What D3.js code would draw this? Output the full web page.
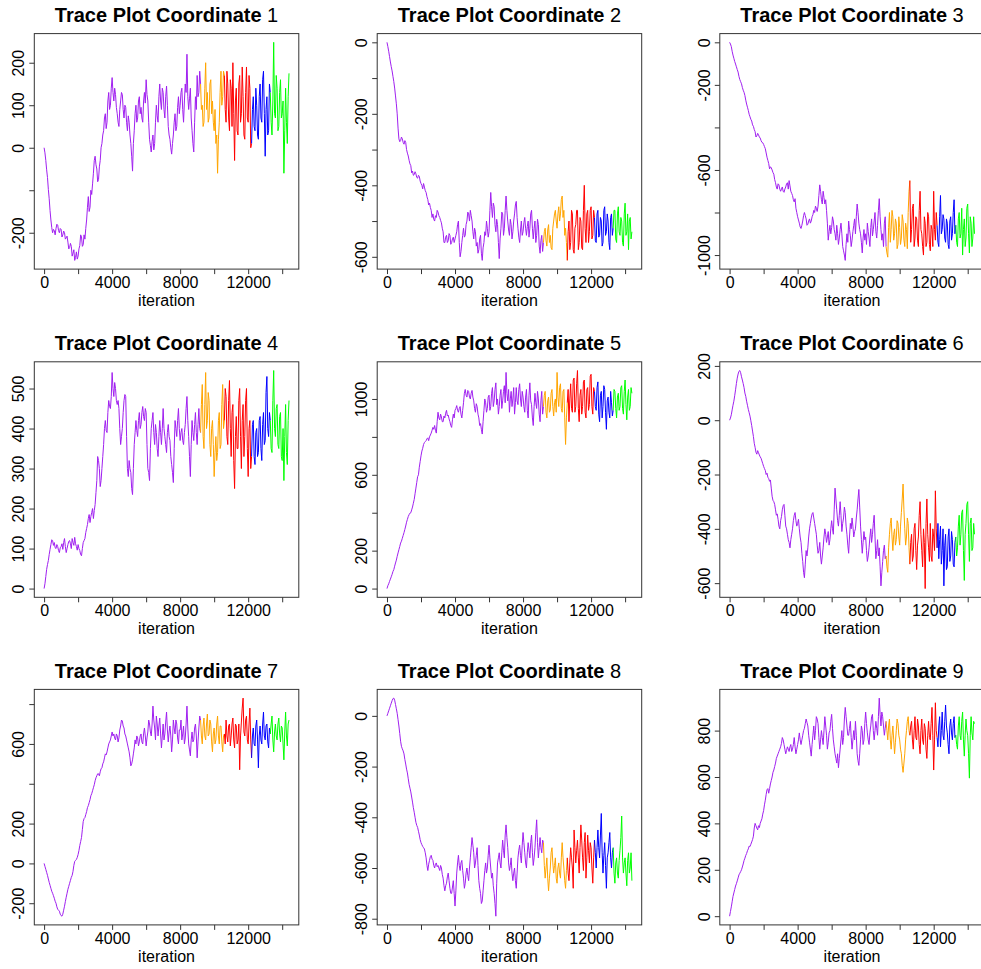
<html>
<head>
<script src="https://d3js.org/d3.v7.min.js"></script>
<style>
  body { margin: 0; background: white; }
  text { font-family: "Liberation Sans", Arial, sans-serif; }
</style>
</head>
<body>
<svg class="chart" width="981" height="969"></svg>

<script>
// trace values, one every 50 iterations (0 .. 14400), 20 per row = 1000 iterations
var step = 50;

var coord1 = [
  0, -12, -30, -52, -70, -98, -120, -148, -170, -188, -200, -192, -195, -205, -190, -180, -182, -195, -200, -190,
  -192, -210, -205, -196, -200, -215, -212, -208, -222, -238, -235, -225, -232, -255, -248, -240, -265, -258, -245, -262,
  -255, -238, -230, -205, -210, -232, -228, -205, -215, -190, -170, -140, -115, -150, -140, -100, -110, -85, -60, -30,
  -20, -40, -50, -80, -75, -45, -30, 0, 10, 30, 40, 70, 80, 45, 60, 110, 130, 90, 100, 140,
  165, 130, 110, 140, 125, 95, 80, 60, 50, 90, 110, 130, 125, 90, 70, 100, 95, 60, 40, 75,
  60, 30, 10, -20, -55, 10, 40, 80, 100, 60, 70, 110, 120, 80, 95, 70, 60, 110, 130, 105,
  160, 125, 110, 60, 20, 5, -10, 15, 30, -5, 10, 60, 100, 75, 60, 120, 150, 110, 90, 140,
  130, 90, 70, 120, 145, 100, 50, 30, 20, 0, -15, 10, 30, 60, 80, 40, 50, 95, 120, 80,
  100, 130, 140, 90, 60, 110, 150, 130, 220, 120, 90, 115, 140, 70, 40, 10, -10, 60, 120, 90,
  170, 120, 130, 180, 150, 90, 100, 50, 60, 140, 200, 90, 130, 60, 70, 150, 160, 80, 110, 60,
  40, 90, 10, 30, -60, 20, 60, 130, 180, 100, 120, 180, 170, 90, 60, 180, 150, 70, 40, 160,
  140, 50, 200, 80, -30, 110, 140, 40, 30, 150, 170, 60, 80, 190, 120, 30, 20, 130, 190, 70,
  60, 170, 140, 0, 10, 90, 120, 50, 40, 140, 100, 30, 20, 120, 150, 70, 60, 160, 180, 80,
  -20, 90, 120, 30, 40, 150, 130, 60, 30, 110, 248, 80, 70, 170, 140, 40, 50, 130, 160, 70,
  80, 110, -60, 40, 140, 60, 10, 120, 175];

var coord2 = [
  0, -12, -25, -40, -55, -68, -80, -95, -110, -128, -150, -172, -200, -240, -270, -278, -275, -265, -270, -280,
  -285, -275, -280, -300, -310, -318, -330, -340, -345, -365, -360, -372, -370, -362, -368, -378, -380, -372, -375, -388,
  -395, -400, -410, -395, -405, -415, -420, -432, -440, -455, -450, -462, -470, -490, -480, -495, -500, -485, -490, -470,
  -475, -485, -490, -498, -505, -520, -530, -560, -560, -545, -540, -560, -555, -535, -540, -565, -560, -550, -545, -560,
  -550, -540, -530, -510, -500, -560, -600, -585, -560, -540, -520, -545, -540, -510, -500, -475, -480, -500, -470, -485,
  -500, -530, -550, -520, -530, -570, -560, -590, -580, -550, -540, -590, -610, -575, -560, -530, -540, -500, -520, -545,
  -530, -470, -420, -460, -490, -450, -460, -510, -530, -495, -510, -560, -605, -550, -520, -475, -480, -540, -520, -470,
  -430, -470, -500, -525, -540, -495, -510, -550, -530, -500, -480, -455, -445, -490, -520, -545, -560, -525, -500, -540,
  -530, -505, -490, -520, -540, -515, -500, -545, -520, -480, -470, -520, -550, -520, -500, -560, -540, -495, -510, -570,
  -590, -555, -540, -585, -560, -530, -520, -555, -570, -525, -510, -560, -540, -575, -580, -520, -500, -480, -470, -500,
  -520, -480, -460, -500, -480, -440, -430, -490, -470, -540, -520, -560, -610, -530, -500, -580, -560, -470, -480, -580,
  -590, -520, -510, -470, -470, -580, -560, -490, -500, -575, -580, -470, -400, -520, -560, -480, -470, -560, -530, -470,
  -460, -550, -540, -470, -490, -555, -560, -480, -470, -545, -540, -490, -500, -570, -560, -470, -460, -540, -530, -480,
  -500, -560, -580, -490, -480, -540, -520, -470, -470, -550, -560, -480, -460, -530, -540, -490, -500, -560, -570, -480,
  -450, -540, -530, -480, -580, -500, -490, -550, -530];

var coord3 = [
  0, -8, -20, -42, -60, -75, -90, -102, -115, -128, -140, -160, -175, -185, -195, -212, -225, -235, -250, -272,
  -290, -305, -320, -338, -350, -362, -370, -388, -395, -410, -420, -445, -440, -428, -435, -445, -450, -462, -470, -472,
  -480, -490, -500, -520, -540, -555, -570, -595, -585, -590, -600, -612, -620, -645, -660, -680, -690, -665, -670, -690,
  -700, -690, -680, -700, -705, -690, -680, -665, -660, -690, -650, -675, -700, -710, -720, -740, -750, -735, -780, -800,
  -820, -835, -850, -868, -875, -860, -840, -815, -800, -815, -830, -860, -855, -840, -830, -850, -840, -820, -810, -790,
  -800, -770, -780, -795, -770, -720, -670, -700, -740, -760, -700, -730, -760, -740, -790, -850, -930, -890, -860, -900,
  -870, -820, -840, -880, -900, -930, -860, -900, -950, -920, -880, -850, -900, -960, -980, -1000, -1025, -950, -900, -940,
  -840, -880, -910, -960, -930, -890, -860, -830, -900, -820, -760, -800, -850, -880, -900, -940, -990, -920, -880, -930,
  -900, -950, -850, -890, -920, -960, -870, -830, -910, -880, -840, -800, -890, -920, -860, -790, -735, -820, -880, -930,
  -900, -960, -850, -820, -960, -990, -1010, -870, -800, -940, -880, -790, -820, -930, -900, -830, -850, -970, -950, -820,
  -870, -950, -920, -810, -840, -930, -960, -850, -880, -970, -800, -700, -650, -940, -880, -780, -760, -960, -920, -820,
  -830, -930, -960, -790, -700, -880, -900, -960, -1000, -820, -850, -960, -940, -800, -820, -950, -980, -860, -880, -960,
  -700, -880, -930, -800, -860, -940, -960, -820, -720, -900, -880, -810, -830, -920, -940, -830, -850, -950, -970, -840,
  -820, -930, -900, -800, -740, -900, -860, -940, -960, -830, -800, -920, -900, -780, -1000, -880, -830, -960, -920, -780,
  -760, -900, -990, -820, -850, -960, -920, -820, -900];

var coord4 = [
  0, 12, 30, 48, 60, 70, 85, 98, 110, 122, 120, 108, 115, 102, 100, 110, 105, 95, 90, 102,
  105, 112, 98, 115, 125, 105, 90, 100, 110, 118, 120, 112, 100, 125, 115, 108, 128, 112, 105, 96,
  110, 100, 95, 85, 82, 100, 115, 120, 125, 140, 150, 160, 175, 185, 165, 180, 190, 200, 175, 195,
  210, 240, 270, 330, 320, 300, 255, 270, 300, 330, 360, 400, 420, 395, 390, 440, 470, 455, 450, 480,
  540, 500, 480, 515, 500, 470, 460, 470, 450, 400, 360, 380, 400, 440, 470, 485, 480, 380, 300, 280,
  320, 300, 290, 250, 235, 300, 360, 390, 420, 395, 380, 420, 440, 400, 410, 440, 455, 430, 420, 450,
  440, 360, 300, 290, 270, 350, 400, 420, 440, 390, 360, 410, 390, 350, 330, 380, 420, 390, 360, 400,
  450, 400, 380, 360, 340, 390, 410, 380, 370, 330, 310, 290, 265, 350, 420, 400, 380, 420, 450, 400,
  370, 390, 400, 370, 360, 390, 410, 450, 480, 420, 380, 330, 280, 360, 420, 390, 370, 410, 440, 390,
  360, 410, 450, 400, 390, 460, 510, 380, 350, 460, 540, 400, 420, 490, 470, 360, 330, 400, 420, 360,
  280, 340, 380, 320, 340, 420, 440, 350, 360, 460, 510, 400, 420, 500, 480, 380, 360, 470, 520, 400,
  330, 440, 460, 320, 250, 380, 430, 350, 350, 470, 500, 380, 300, 420, 460, 330, 380, 470, 500, 350,
  280, 400, 420, 300, 330, 410, 420, 330, 310, 390, 400, 330, 340, 420, 430, 350, 320, 410, 440, 360,
  370, 490, 530, 400, 380, 440, 420, 350, 340, 470, 545, 400, 380, 450, 460, 360, 350, 430, 440, 330,
  320, 400, 270, 380, 460, 340, 310, 420, 470];

var coord5 = [
  0, 15, 25, 38, 50, 62, 75, 90, 100, 118, 135, 150, 170, 188, 205, 222, 240, 250, 265, 280,
  295, 312, 330, 350, 365, 380, 390, 398, 400, 415, 430, 450, 470, 500, 530, 560, 590, 600, 640, 670,
  700, 725, 740, 760, 770, 775, 780, 790, 795, 780, 800, 810, 820, 835, 850, 840, 860, 835, 820, 880,
  930, 900, 890, 920, 905, 880, 880, 910, 900, 925, 940, 910, 915, 895, 880, 860, 850, 890, 920, 900,
  940, 950, 965, 940, 930, 950, 960, 920, 900, 940, 980, 1030, 1050, 1020, 1010, 1045, 1040, 1010, 1000, 1030,
  1045, 1010, 990, 950, 930, 975, 960, 920, 900, 860, 870, 840, 815, 880, 940, 1000, 980, 930, 950, 1010,
  1020, 940, 960, 1030, 1060, 960, 990, 1050, 1085, 970, 1000, 920, 960, 1020, 1050, 950, 990, 1040, 1070, 980,
  1140, 1030, 990, 1050, 930, 1000, 1040, 960, 1000, 1060, 920, 980, 1060, 990, 970, 1050, 1080, 1000, 960, 1040,
  1010, 960, 930, 1010, 1050, 940, 900, 1020, 1085, 990, 970, 900, 860, 960, 1030, 980, 950, 1040, 1000, 920,
  880, 990, 1040, 920, 960, 1020, 1040, 930, 900, 990, 1010, 930, 940, 1030, 1050, 960, 910, 980, 1000, 930,
  1140, 1010, 960, 1060, 1080, 950, 930, 1040, 1050, 900, 760, 900, 980, 1050, 880, 1000, 1080, 950, 930, 1100,
  1110, 930, 960, 1080, 1150, 950, 880, 1020, 1050, 920, 960, 1090, 1100, 930, 900, 1050, 1060, 940, 970, 1120,
  1130, 960, 920, 1060, 1040, 960, 940, 1060, 1090, 920, 880, 1020, 1040, 900, 960, 1070, 1050, 930, 840, 990,
  1010, 930, 900, 1040, 980, 910, 940, 1050, 1040, 950, 900, 1010, 1030, 940, 960, 1060, 1070, 950, 920, 1040,
  1100, 970, 890, 1010, 1050, 940, 960, 1060, 1030];

var coord6 = [
  0, 8, 20, 38, 55, 70, 90, 112, 135, 155, 170, 180, 183, 175, 160, 148, 135, 120, 100, 88,
  70, 55, 40, 28, 15, -2, -20, -40, -60, -85, -100, -118, -125, -112, -120, -128, -135, -140, -150, -160,
  -170, -178, -185, -200, -195, -210, -215, -225, -220, -250, -280, -295, -300, -310, -330, -350, -345, -365, -390, -400,
  -370, -355, -330, -315, -310, -350, -390, -400, -420, -440, -450, -470, -440, -420, -400, -370, -350, -340, -370, -390,
  -380, -365, -400, -430, -450, -490, -520, -560, -580, -530, -480, -500, -470, -430, -400, -380, -360, -345, -340, -360,
  -380, -400, -420, -460, -490, -480, -450, -500, -530, -500, -470, -430, -400, -420, -450, -430, -410, -460, -440, -400,
  -370, -400, -420, -330, -250, -290, -330, -370, -390, -350, -300, -350, -410, -380, -360, -320, -340, -390, -420, -460,
  -490, -430, -380, -400, -360, -390, -430, -410, -400, -360, -330, -290, -255, -320, -390, -440, -490, -450, -410, -440,
  -430, -480, -520, -500, -470, -430, -400, -450, -420, -380, -350, -430, -510, -480, -440, -500, -470, -540, -610, -560,
  -520, -480, -460, -510, -500, -540, -560, -470, -420, -380, -360, -430, -480, -420, -400, -460, -440, -370, -380, -430,
  -460, -390, -340, -290, -235, -330, -400, -460, -430, -360, -380, -470, -530, -450, -420, -520, -500, -400, -380, -480,
  -550, -460, -430, -350, -300, -420, -480, -540, -400, -450, -620, -380, -290, -420, -470, -520, -380, -500, -520, -400,
  -430, -480, -260, -400, -470, -380, -510, -440, -390, -530, -480, -400, -610, -460, -420, -550, -540, -430, -400, -520,
  -500, -410, -440, -530, -540, -450, -430, -500, -470, -390, -350, -460, -420, -340, -330, -480, -590, -420, -380, -310,
  -300, -420, -520, -380, -360, -480, -470, -380, -420];

var coord7 = [
  0, -15, -30, -45, -60, -78, -95, -110, -125, -140, -150, -162, -175, -190, -200, -218, -230, -235, -240, -255,
  -262, -265, -255, -235, -215, -192, -170, -150, -130, -115, -100, -85, -70, -60, -40, -10, 10, 15, 20, 30,
  45, 65, 90, 110, 130, 170, 210, 225, 230, 245, 260, 280, 290, 305, 320, 340, 350, 365, 380, 395,
  415, 430, 440, 450, 450, 440, 460, 475, 480, 500, 510, 530, 550, 545, 560, 580, 600, 610, 620, 640,
  660, 640, 650, 630, 620, 650, 640, 610, 630, 670, 690, 720, 715, 690, 680, 650, 640, 620, 600, 580,
  560, 530, 490, 500, 520, 550, 580, 620, 600, 640, 630, 590, 610, 640, 650, 610, 600, 650, 680, 640,
  590, 630, 660, 720, 700, 660, 640, 700, 790, 720, 680, 620, 740, 700, 640, 690, 730, 650, 580, 640,
  700, 620, 650, 710, 760, 670, 610, 660, 690, 640, 560, 620, 720, 680, 650, 720, 700, 630, 600, 670,
  670, 720, 620, 650, 690, 600, 630, 700, 790, 680, 600, 570, 540, 620, 660, 610, 620, 680, 700, 640,
  530, 610, 680, 740, 720, 640, 600, 690, 730, 640, 620, 700, 750, 640, 650, 720, 700, 610, 560, 650,
  680, 600, 620, 700, 740, 640, 600, 690, 690, 610, 560, 640, 650, 600, 720, 640, 610, 690, 700, 590,
  640, 700, 730, 620, 580, 700, 690, 600, 620, 700, 470, 640, 710, 780, 830, 660, 640, 720, 740, 620,
  600, 700, 780, 620, 530, 640, 680, 600, 590, 690, 720, 620, 480, 640, 690, 620, 600, 700, 760, 640,
  620, 690, 700, 610, 580, 680, 650, 700, 740, 620, 560, 660, 700, 640, 620, 700, 730, 650, 610, 690,
  680, 600, 520, 660, 760, 640, 590, 700, 720];

var coord8 = [
  0, 10, 20, 30, 40, 50, 60, 68, 70, 62, 45, 28, 10, -15, -40, -70, -100, -120, -130, -138,
  -150, -172, -190, -210, -225, -248, -270, -285, -300, -320, -340, -362, -380, -400, -420, -432, -440, -455, -470, -488,
  -500, -508, -515, -520, -525, -540, -560, -590, -610, -585, -570, -555, -550, -565, -570, -590, -600, -585, -580, -595,
  -590, -600, -610, -590, -600, -625, -640, -670, -690, -670, -660, -635, -620, -650, -680, -700, -700, -675, -650, -700,
  -750, -690, -620, -580, -550, -590, -610, -580, -570, -610, -640, -680, -660, -620, -600, -630, -650, -600, -560, -520,
  -480, -510, -540, -600, -580, -550, -520, -590, -650, -680, -700, -740, -730, -690, -650, -610, -580, -620, -600, -550,
  -510, -560, -600, -640, -620, -670, -700, -740, -790, -660, -580, -560, -540, -580, -600, -540, -490, -530, -560, -470,
  -430, -480, -520, -580, -610, -590, -560, -620, -650, -620, -600, -650, -680, -620, -560, -530, -510, -550, -580, -510,
  -460, -500, -540, -580, -600, -540, -500, -530, -560, -500, -470, -540, -590, -560, -520, -460, -410, -500, -560, -520,
  -480, -520, -540, -490, -500, -590, -640, -600, -560, -640, -690, -640, -600, -540, -520, -580, -620, -590, -560, -640,
  -660, -600, -580, -620, -640, -560, -500, -560, -600, -650, -680, -610, -560, -620, -650, -580, -520, -560, -600, -680,
  -450, -520, -580, -530, -490, -560, -620, -520, -430, -490, -560, -610, -500, -460, -640, -560, -470, -530, -580, -500,
  -520, -600, -660, -560, -490, -540, -600, -520, -450, -520, -560, -470, -385, -540, -620, -550, -500, -590, -680, -560,
  -540, -500, -460, -560, -600, -540, -520, -620, -660, -580, -560, -620, -640, -570, -530, -480, -395, -560, -620, -580,
  -560, -620, -670, -570, -540, -620, -600, -540, -650];

var coord9 = [
  0, 20, 40, 62, 85, 100, 115, 130, 140, 152, 165, 178, 185, 192, 200, 212, 225, 240, 250, 262,
  270, 282, 290, 302, 300, 310, 320, 330, 345, 380, 400, 390, 380, 372, 390, 382, 400, 410, 420, 440,
  455, 480, 500, 525, 545, 550, 530, 550, 570, 585, 600, 620, 630, 645, 660, 680, 690, 700, 710, 720,
  730, 745, 770, 760, 740, 720, 700, 715, 730, 720, 710, 730, 740, 710, 720, 740, 770, 730, 700, 720,
  740, 760, 790, 760, 740, 760, 780, 800, 810, 830, 850, 835, 820, 780, 750, 720, 690, 740, 780, 820,
  760, 800, 860, 850, 830, 770, 720, 760, 800, 770, 740, 800, 860, 820, 780, 720, 750, 790, 800, 840,
  870, 810, 760, 730, 700, 680, 660, 700, 640, 680, 720, 760, 800, 740, 770, 850, 900, 860, 820, 780,
  780, 810, 840, 770, 720, 760, 800, 760, 840, 780, 700, 670, 650, 700, 760, 820, 800, 740, 760, 830,
  880, 830, 790, 760, 740, 790, 820, 860, 870, 800, 760, 800, 840, 810, 780, 860, 940, 870, 820, 880,
  860, 820, 780, 810, 840, 800, 760, 820, 850, 760, 720, 780, 820, 760, 700, 750, 800, 850, 830, 780,
  760, 720, 700, 650, 620, 660, 700, 760, 800, 840, 860, 800, 780, 820, 840, 760, 720, 800, 860, 770,
  760, 850, 820, 740, 700, 800, 850, 760, 740, 830, 810, 720, 680, 780, 840, 770, 760, 830, 900, 780,
  630, 760, 920, 800, 770, 730, 820, 860, 730, 800, 880, 780, 760, 840, 910, 820, 790, 740, 700, 820,
  850, 790, 760, 830, 860, 770, 780, 740, 720, 820, 860, 780, 760, 840, 880, 760, 690, 780, 850, 800,
  780, 700, 595, 780, 860, 790, 760, 840, 830];

var traces = [coord1, coord2, coord3, coord4, coord5, coord6, coord7, coord8, coord9];

// sampler phases: last iteration of each one, and its colour
var phaseEnds = [9200, 10600, 12200, 13300, 14400];
var phaseColors = ["#A020F0", "#FFA500", "#FF0000", "#0000FF", "#00FF00"];

// axis ticks (R leaves some labels out when they would overlap)
var xTicks = [0, 2000, 4000, 6000, 8000, 10000, 12000, 14000];
var xLabels = [0, 4000, 8000, 12000];
var yTicks = [
  [-200, -100, 0, 100, 200],
  [-600, -500, -400, -300, -200, -100, 0],
  [-1000, -800, -600, -400, -200, 0],
  [0, 100, 200, 300, 400, 500],
  [0, 200, 400, 600, 800, 1000],
  [-600, -400, -200, 0, 200],
  [-200, 0, 200, 400, 600, 800],
  [-800, -600, -400, -200, 0],
  [0, 200, 400, 600, 800]];
var yLabels = [
  [-200, 0, 100, 200],
  [-600, -400, -200, 0],
  [-1000, -600, -200, 0],
  [0, 100, 200, 300, 400, 500],
  [0, 200, 600, 1000],
  [-600, -400, -200, 0, 200],
  [-200, 0, 200, 600],
  [-800, -600, -400, -200, 0],
  [0, 200, 400, 600, 800]];

// panel boxes
var boxW = 264.5, boxH = 235.5;
var colX = [34.3, 377.2, 719.8];
var rowY = [33.6, 361.8, 689.4];

var svg = d3.select(".chart");

traces.forEach(function(vals, p) {
  var left = colX[p % 3], top = rowY[Math.floor(p / 3)];
  var pts = vals.map(function(v, i) { return {it: i * step, v: v}; });

  // R style 4% padding on both scales
  var xr = d3.extent(pts, function(d) { return d.it; });
  var yr = d3.extent(vals);
  var xpad = (xr[1] - xr[0]) * 0.04, ypad = (yr[1] - yr[0]) * 0.04;
  var x = d3.scaleLinear().domain([xr[0] - xpad, xr[1] + xpad]).range([0, boxW]);
  var y = d3.scaleLinear().domain([yr[0] - ypad, yr[1] + ypad]).range([boxH, 0]);

  var g = svg.append("g").attr("transform", "translate(" + left + "," + top + ")");

  var line = d3.line()
    .x(function(d) { return x(d.it); })
    .y(function(d) { return y(d.v); });

  // one path per phase
  var start = 0;
  phaseEnds.forEach(function(end, k) {
    var seg = pts.filter(function(d) { return d.it >= start && d.it <= end; });
    g.append("path")
      .datum(seg)
      .attr("fill", "none")
      .attr("stroke", phaseColors[k])
      .attr("stroke-width", 1)
      .attr("d", line);
    start = end;
  });

  // frame
  g.append("rect")
    .attr("width", boxW).attr("height", boxH)
    .attr("fill", "none").attr("stroke", "#333").attr("stroke-width", 1);

  // x axis
  var xa = g.append("g")
    .attr("transform", "translate(0," + boxH + ")")
    .call(d3.axisBottom(x).tickValues(xTicks).tickSize(5)
      .tickFormat(function(d) { return xLabels.indexOf(d) >= 0 ? String(d) : ""; }));
  xa.select(".domain").remove();
  xa.attr("color", "#333").attr("font-size", 16).attr("font-family", null);
  xa.selectAll("text").attr("y", 19.2).attr("dy", 0).attr("fill", "black");

  // y axis, labels turned like R's las = 0
  var ya = g.append("g")
    .call(d3.axisLeft(y).tickValues(yTicks[p]).tickSize(5)
      .tickFormat(function(d) { return yLabels[p].indexOf(d) >= 0 ? String(d) : ""; }));
  ya.select(".domain").remove();
  ya.attr("color", "#333").attr("font-size", 16).attr("font-family", null);
  ya.selectAll("text")
    .attr("transform", "rotate(-90)")
    .attr("x", 0).attr("y", -10.3).attr("dy", 0)
    .attr("text-anchor", "middle")
    .attr("fill", "black");

  // title
  var t = g.append("text")
    .attr("x", boxW / 2).attr("y", -11.9)
    .attr("text-anchor", "middle")
    .attr("font-size", 20);
  t.append("tspan").attr("font-weight", "bold").text("Trace Plot Coordinate ");
  t.append("tspan").text(p + 1);

  // x label
  g.append("text")
    .attr("x", boxW / 2).attr("y", boxH + 36.7)
    .attr("text-anchor", "middle")
    .attr("font-size", 16)
    .text("iteration");
});
</script>
</body>
</html>
